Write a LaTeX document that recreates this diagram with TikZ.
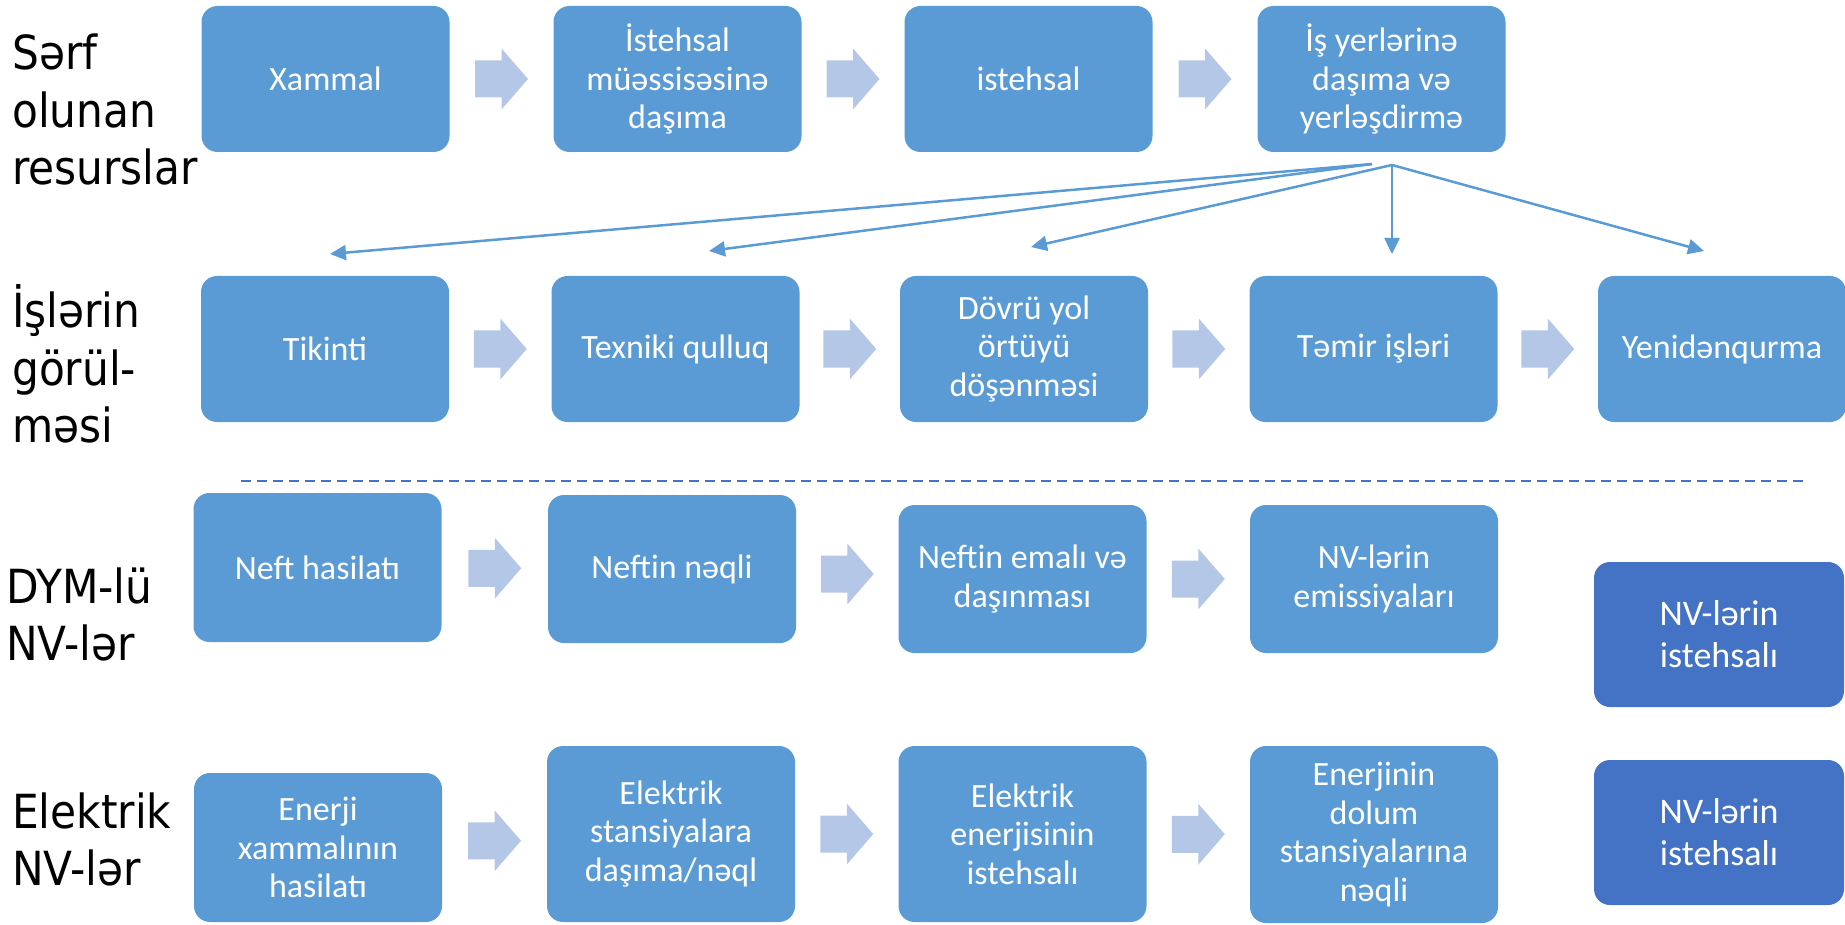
\documentclass[tikz,border=0pt]{standalone}
\usepackage{fontspec}
\setmainfont{Carlito}
\newfontfamily\sidefont{DejaVu Sans Condensed}
\usetikzlibrary{arrows.meta,calc}
\definecolor{boxblue}{HTML}{5B9BD5}
\definecolor{darkblue}{HTML}{4472C4}
\definecolor{arrowblue}{HTML}{B4C7E7}

\begin{document}
\begin{tikzpicture}[x=1pt,y=-1pt,
  box/.style={rectangle,rounded corners=16pt,fill=boxblue,text=white,align=center,inner sep=2pt,
    minimum width=248pt,minimum height=146pt,font=\fontsize{34}{38.5}\selectfont},
  darkbox/.style={box,fill=darkblue,minimum width=250pt,minimum height=145pt,font=\fontsize{36}{42}\selectfont},
  side/.style={anchor=base west,inner sep=0pt,text width=230pt,align=left,font=\sidefont\fontsize{47}{57.5}\selectfont},
  fanline/.style={draw=boxblue,line width=2.5pt,-{Triangle[length=16pt,width=15pt]}},
  blockarr/.pic={\fill[arrowblue] (-26.5,-18.5) -- (0,-18.5) -- (0,-30.5) -- (26.5,0) -- (0,30.5) -- (0,18.5) -- (-26.5,18.5) -- cycle;}
]
\useasboundingbox (0,0) rectangle (1845,925);

\node[side] (19) at (12,70) {Sərf\\olunan\\resurslar};
\node[side] (20) at (12,328) {İşlərin\\görül-\\məsi};
\node[side] (21) at (6,603) {DYM-lü\\NV-lər};
\node[side] (22) at (12,828) {Elektrik\\NV-lər};

\begin{scope}[every node/.style={box}]
\node (0) at (325.5,79) {Xammal};
\node (1) at (677.5,79) {İstehsal\\müəssisəsinə\\daşıma};
\node (2) at (1028.5,79) {istehsal};
\node (3) at (1381.5,79) {İş yerlərinə\\daşıma və\\yerləşdirmə};

\node (4) at (325,349) {Tikinti};
\node (5) at (675.5,349) {Texniki qulluq};
\node (6) at (1024,349) {Dövrü yol\\örtüyü\\döşənməsi};
\node (7) at (1373.5,349) {Təmir işləri};
\node (8) at (1722,349) {Yenidənqurma};

\node (9)[minimum height=149pt] at (317.5,567.5) {Neft hasilatı};
\node (10)[minimum height=148pt] at (672,569) {Neftin nəqli};
\node (11)[minimum height=148pt] at (1022.5,579) {Neftin emalı və\\daşınması};
\node (12)[minimum height=148pt] at (1374,579) {NV-lərin\\emissiyaları};
\node (13)[darkbox] at (1719,634.5) {NV-lərin\\istehsalı};

\node (14)[minimum height=149pt] at (318,847.5) {Enerji\\xammalının\\hasilatı};
\node (15)[minimum height=176pt] at (671,834) {Elektrik\\stansiyalara\\daşıma/nəql};
\node (16)[minimum height=176pt] at (1022.5,834) {Elektrik\\enerjisinin\\istehsalı};
\node (17)[minimum height=177pt] at (1374,834.5) {Enerjinin\\dolum\\stansiyalarına\\nəqli};
\node (18)[darkbox] at (1719,832.5) {NV-lərin\\istehsalı};
\end{scope}

\pic at ($(0.east)!0.5!(1.west)$) {blockarr};
\pic at ($(1.east)!0.5!(2.west)$) {blockarr};
\pic at ($(2.east)!0.5!(3.west)$) {blockarr};

\pic at ($(4.east)!0.5!(5.west)$) {blockarr};
\pic at ($(5.east)!0.5!(6.west)$) {blockarr};
\pic at ($(6.east)!0.5!(7.west)$) {blockarr};
\pic at ($(7.east)!0.5!(8.west)$) {blockarr};

\pic at ($(9.east)!0.5!(10.west)$) {blockarr};
\pic at ($(10.east)!0.5!(11.west)$) {blockarr};
\pic at ($(11.east)!0.5!(12.west)$) {blockarr};

\pic at ($(14.east)!0.5!(15.west)$) {blockarr};
\pic at ($(15.east)!0.5!(16.west)$) {blockarr};
\pic at ($(16.east)!0.5!(17.west)$) {blockarr};

\coordinate (fa) at (1372,164);
\coordinate (fb) at (1392,165);
\coordinate (t4) at (330,254);
\coordinate (t5) at (709,251);
\coordinate (t6) at (1031,247);
\coordinate (t7) at (1392,254);
\coordinate (t8) at (1704,251);

\draw[fanline] (fa) -- (t4);
\draw[fanline] (fa) -- (t5);
\draw[fanline] (fb) -- (t6);
\draw[fanline] (fb) -- (t7);
\draw[fanline] (fb) -- (t8);

\draw[darkblue,line width=2.5pt,dash pattern=on 10pt off 6pt] (241,481) -- (1804,481);
\end{tikzpicture}
\end{document}
